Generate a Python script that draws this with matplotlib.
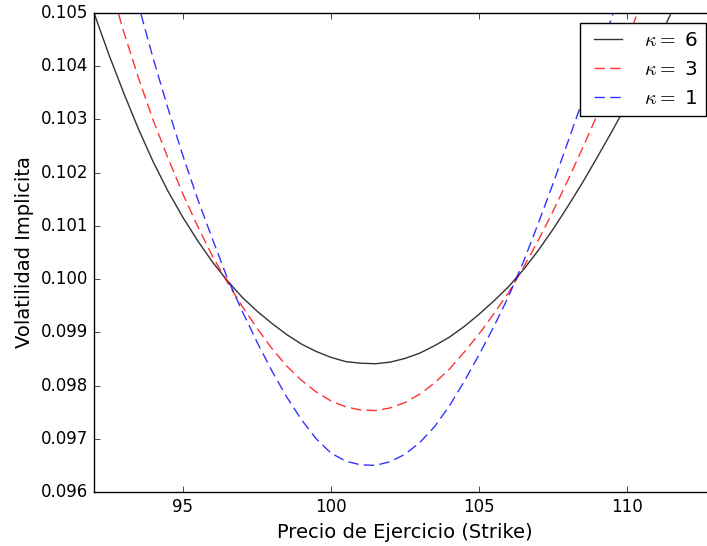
import numpy as np
import matplotlib
matplotlib.use("Agg")
import matplotlib.pyplot as plt
from matplotlib.ticker import MultipleLocator

# strikes and implied vols
strikes = [92.0, 92.5, 93.0, 93.5, 94.0, 94.5, 95.0, 95.5, 96.0, 96.5,
           97.0, 97.5, 98.0, 98.5, 99.0, 99.5, 100.0, 100.5, 101.0, 101.5,
           102.0, 102.5, 103.0, 103.5, 104.0, 104.5, 105.0, 105.5, 106.0,
           106.5, 107.0, 107.5, 108.0, 108.5, 109.0, 109.5, 110.0, 110.5,
           111.0, 111.5, 112.0, 112.5, 113.0]

vol_k6 = [0.10500, 0.10422, 0.10350, 0.10282, 0.10220, 0.10165, 0.10116,
          0.10072, 0.10032, 0.09997, 0.09966, 0.09940, 0.09917, 0.09896,
          0.09878, 0.09864, 0.09853, 0.09845, 0.09842, 0.09841, 0.09844,
          0.09851, 0.09861, 0.09875, 0.09891, 0.09911, 0.09934, 0.09959,
          0.09986, 0.10018, 0.10054, 0.10094, 0.10137, 0.10182, 0.10230,
          0.10279, 0.10330, 0.10385, 0.10442, 0.10502, 0.10564, 0.10628,
          0.10695]
vol_k3 = [0.10660, 0.10560, 0.10465, 0.10378, 0.10298, 0.10227, 0.10160,
          0.10099, 0.10043, 0.09994, 0.09949, 0.09908, 0.09870, 0.09837,
          0.09810, 0.09788, 0.09771, 0.09760, 0.09754, 0.09753, 0.09758,
          0.09768, 0.09784, 0.09805, 0.09831, 0.09863, 0.09897, 0.09935,
          0.09975, 0.10022, 0.10073, 0.10128, 0.10186, 0.10247, 0.10310,
          0.10377, 0.10448, 0.10523, 0.10600, 0.10681, 0.10765, 0.10851,
          0.10940]
vol_k1 = [0.10845, 0.10730, 0.10620, 0.10515, 0.10414, 0.10320, 0.10232,
          0.10150, 0.10075, 0.10002, 0.09940, 0.09882, 0.09828, 0.09779,
          0.09736, 0.09700, 0.09673, 0.09658, 0.09651, 0.09650, 0.09657,
          0.09671, 0.09693, 0.09723, 0.09762, 0.09808, 0.09858, 0.09911,
          0.09968, 0.10033, 0.10105, 0.10180, 0.10258, 0.10337, 0.10415,
          0.10495, 0.10578, 0.10663, 0.10750, 0.10840, 0.10930, 0.11022,
          0.11115]

labels = [r'$\kappa=$ 6', r'$\kappa=$ 3', r'$\kappa=$ 1']

plt.style.use('classic')
plt.rcParams['figure.facecolor'] = 'white'
plt.rcParams['savefig.facecolor'] = 'white'

fig = plt.figure(figsize=(7.07, 5.46), dpi=100)
ax = fig.add_axes([0.133, 0.0989, 0.8798, 0.8773])

dash = (7.5, 3.8)
ax.plot(strikes, vol_k6, 'k-', alpha=0.8, label=labels[0])
ax.plot(strikes, vol_k3, 'r--', alpha=0.8, dashes=dash, label=labels[1])
ax.plot(strikes, vol_k1, 'b--', alpha=0.8, dashes=dash, label=labels[2])

ax.set_xlim(92, 113)
ax.set_ylim(0.096, 0.105)
ax.xaxis.set_major_locator(MultipleLocator(5))
ax.yaxis.set_major_locator(MultipleLocator(0.001))
ax.ticklabel_format(axis='y', useOffset=False)

ax.set_xlabel('Precio de Ejercicio (Strike)', fontsize=14)
ax.set_ylabel('Volatilidad Implicita', fontsize=14)
ax.legend(loc='upper right', fontsize='large')

fig.savefig('out.png', dpi=100)
